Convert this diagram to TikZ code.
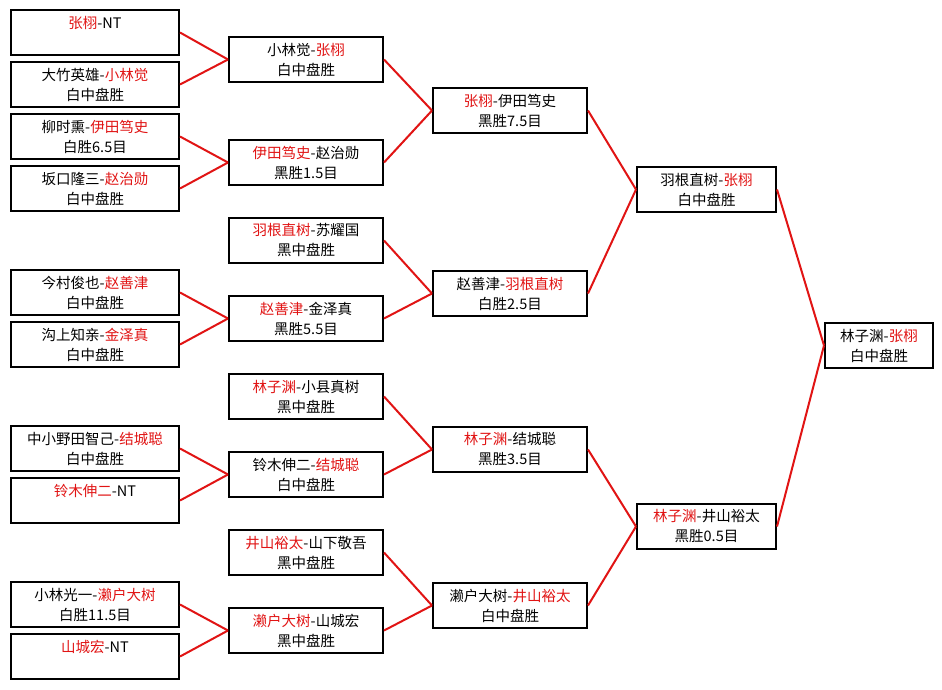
\documentclass[tikz,border=0pt]{standalone}
\usepackage{fontspec}
\setmainfont{Noto Sans CJK SC}
\usepackage{tikz}
\definecolor{winred}{RGB}{225,20,20}
\newcommand{\rd}[1]{\textcolor{winred}{#1}}

\begin{document}
\begin{tikzpicture}[x=1pt, y=-1pt,
                    game/.style={draw=black, line width=2pt, fill=white, minimum height=45pt, inner sep=0pt,
                                 align=center, font=\fontsize{14.5}{20}\selectfont},
                    first/.style={game, minimum width=168pt},
                    second/.style={game, minimum width=154pt},
                    semi/.style={game, minimum width=139pt},
                    final/.style={game, minimum width=108pt},
                    win/.style={winred, line width=2pt}]

            \useasboundingbox[fill=white] (0,0) rectangle (942,689);

            % first round
            \node[first] (a1)  at (95,32.5)  {\rd{张栩}-NT\\\mbox{}};
            \node[first] (a2)  at (95,84.5)  {大竹英雄-\rd{小林觉}\\白中盘胜};
            \node[first] (a3)  at (95,136.5) {柳时熏-\rd{伊田笃史}\\白胜6.5目};
            \node[first] (a4)  at (95,188.5) {坂口隆三-\rd{赵治勋}\\白中盘胜};
            \node[first] (a5)  at (95,292.5) {今村俊也-\rd{赵善津}\\白中盘胜};
            \node[first] (a6)  at (95,344.5) {沟上知亲-\rd{金泽真}\\白中盘胜};
            \node[first] (a7)  at (95,448.5) {中小野田智己-\rd{结城聪}\\白中盘胜};
            \node[first] (a8)  at (95,500.5) {\rd{铃木伸二}-NT\\\mbox{}};
            \node[first] (a9)  at (95,604.5) {小林光一-\rd{濑户大树}\\白胜11.5目};
            \node[first] (a10) at (95,656.5) {\rd{山城宏}-NT\\\mbox{}};

            % second round
            \node[second] (b1) at (306,59.5)  {小林觉-\rd{张栩}\\白中盘胜};
            \node[second] (b2) at (306,162.5) {\rd{伊田笃史}-赵治勋\\黑胜1.5目};
            \node[second] (b3) at (306,240.5) {\rd{羽根直树}-苏耀国\\黑中盘胜};
            \node[second] (b4) at (306,318.5) {\rd{赵善津}-金泽真\\黑胜5.5目};
            \node[second] (b5) at (306,396.5) {\rd{林子渊}-小县真树\\黑中盘胜};
            \node[second] (b6) at (306,474.5) {铃木伸二-\rd{结城聪}\\白中盘胜};
            \node[second] (b7) at (306,552.5) {\rd{井山裕太}-山下敬吾\\黑中盘胜};
            \node[second] (b8) at (306,630.5) {\rd{濑户大树}-山城宏\\黑中盘胜};

            % quarter finals
            \node[second] (c1) at (510,110.5) {\rd{张栩}-伊田笃史\\黑胜7.5目};
            \node[second] (c2) at (510,293.5) {赵善津-\rd{羽根直树}\\白胜2.5目};
            \node[second] (c3) at (510,449.5) {\rd{林子渊}-结城聪\\黑胜3.5目};
            \node[second] (c4) at (510,605.5) {濑户大树-\rd{井山裕太}\\白中盘胜};

            % semi finals
            \node[semi] (d1) at (706.5,189.5) {羽根直树-\rd{张栩}\\白中盘胜};
            \node[semi] (d2) at (706.5,526.5) {\rd{林子渊}-井山裕太\\黑胜0.5目};

            % final
            \node[final] (e1) at (879,345.5) {林子渊-\rd{张栩}\\白中盘胜};

            \draw[win] (a1.east) -- (b1.west);
            \draw[win] (a2.east) -- (b1.west);
            \draw[win] (a3.east) -- (b2.west);
            \draw[win] (a4.east) -- (b2.west);
            \draw[win] (a5.east) -- (b4.west);
            \draw[win] (a6.east) -- (b4.west);
            \draw[win] (a7.east) -- (b6.west);
            \draw[win] (a8.east) -- (b6.west);
            \draw[win] (a9.east) -- (b8.west);
            \draw[win] (a10.east) -- (b8.west);

            \draw[win] (b1.east) -- (c1.west);
            \draw[win] (b2.east) -- (c1.west);
            \draw[win] (b3.east) -- (c2.west);
            \draw[win] (b4.east) -- (c2.west);
            \draw[win] (b5.east) -- (c3.west);
            \draw[win] (b6.east) -- (c3.west);
            \draw[win] (b7.east) -- (c4.west);
            \draw[win] (b8.east) -- (c4.west);

            \draw[win] (c1.east) -- (d1.west);
            \draw[win] (c2.east) -- (d1.west);
            \draw[win] (c3.east) -- (d2.west);
            \draw[win] (c4.east) -- (d2.west);

            \draw[win] (d1.east) -- (e1.west);
            \draw[win] (d2.east) -- (e1.west);
        \end{tikzpicture}
\end{document}
